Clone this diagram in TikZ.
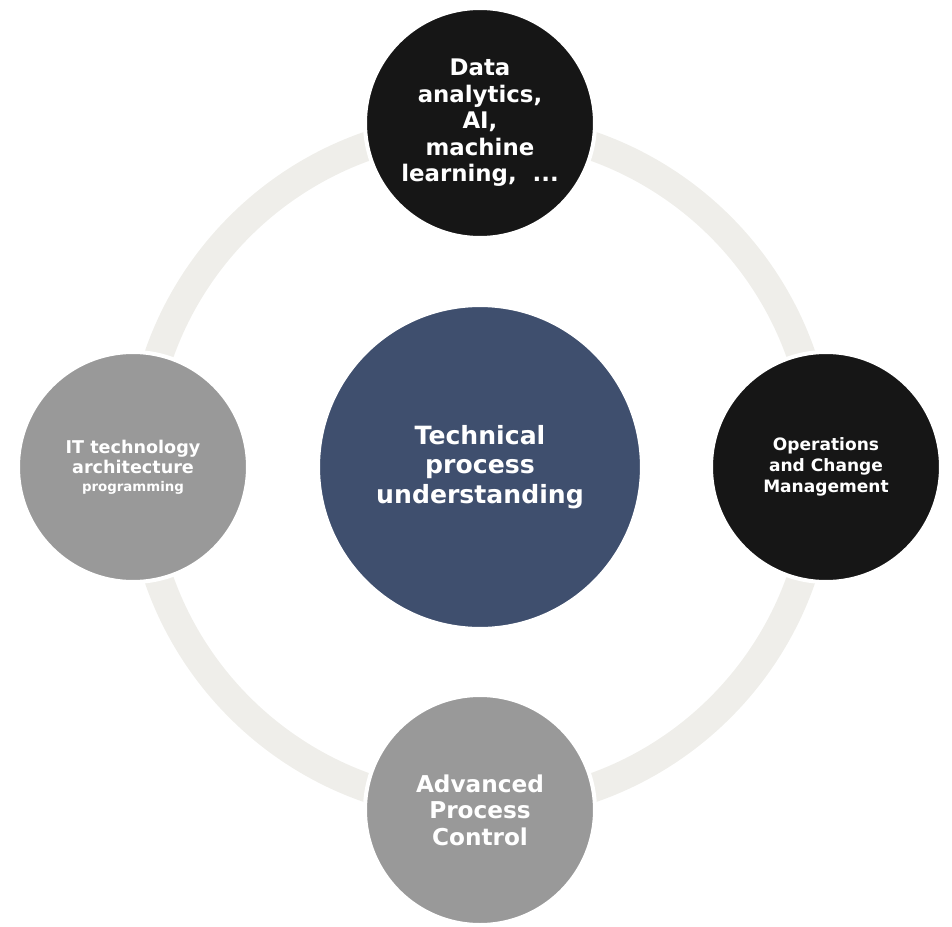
\documentclass[tikz,border=0pt]{standalone}
\usepackage{fontspec}
\setmainfont{DejaVu Sans}
\usetikzlibrary{positioning}
\definecolor{ringgray}{HTML}{EFEEEA}
\definecolor{hubblue}{HTML}{3F4F6E}
\definecolor{darkunit}{HTML}{161616}
\definecolor{greyunit}{HTML}{999999}
\begin{document}
\begin{tikzpicture}
	\tikzstyle{unit} = [circle,draw=white,line width=0.08cm,minimum size=4.6cm,inner sep=0pt,align=center,text=white]
	\tikzstyle{hub} = [circle,draw=white,line width=1.2pt,fill=hubblue,minimum size=6.44cm,inner sep=0pt,align=center,text=white]
	
		\useasboundingbox (-9.6,-9.18) rectangle (9.44,9.34);
		\coordinate (o) at (0,0);
		\draw[ringgray,line width=0.58cm] (o) circle (6.8cm);
		
		\node[hub,font=\bfseries\fontsize{14.3}{16.9}\selectfont] (tpu) at (o){Technical\\ process\\ understanding};
		\node[unit,fill=darkunit,font=\bfseries\fontsize{13}{15.1}\selectfont] (data) at ([yshift=6.88cm]o){Data\\ analytics,\\ AI,\\ machine\\ learning,~~...};
		\node[unit,fill=darkunit,font=\bfseries\fontsize{9.7}{12}\selectfont] (ops) at ([xshift=6.92cm]o){Operations\\ and Change\\ Management};
		\node[unit,fill=greyunit,font=\bfseries\fontsize{13.2}{15}\selectfont] (apc) at ([yshift=-6.86cm]o){Advanced\\ Process\\ Control};
		\node[unit,fill=greyunit,font=\bfseries\fontsize{10}{11.3}\selectfont] (it) at ([xshift=-6.94cm]o){IT technology\\ architecture\\[-1pt] {\fontsize{7.6}{9}\selectfont programming}};
		
\end{tikzpicture}
\end{document}
